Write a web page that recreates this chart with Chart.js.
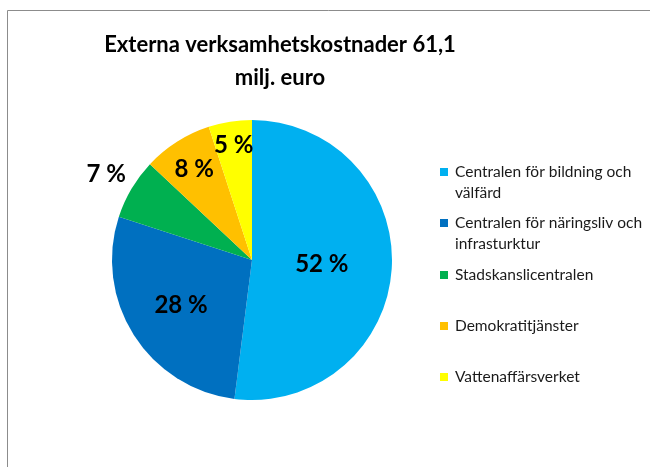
<!DOCTYPE html>
<html>
<head>
<meta charset="utf-8">
<title>Externa verksamhetskostnader</title>
<script src="https://cdn.jsdelivr.net/npm/chart.js@4.4.0/dist/chart.umd.min.js"></script>
<style>
    body { margin: 0; background: #fff; }
    canvas { display: block; }
</style>
</head>
<body>
<canvas id="costChart" width="650" height="467"></canvas>
<script>
// chart data
const categories = [
    ['Centralen för bildning och', 'välfärd'],
    ['Centralen för näringsliv och', 'infrasturktur'],
    ['Stadskanslicentralen'],
    ['Demokratitjänster'],
    ['Vattenaffärsverket']
];
const shares = [52, 28, 7, 8, 5];
const sliceColors = ['#00B0F0', '#0070C0', '#00B050', '#FFC000', '#FFFF00'];
const titleLines = ['Externa verksamhetskostnader 61,1', 'milj. euro'];

// how far out (share of radius) each percent label sits
const labelRadius = [0.5, 0.6, 1.21, 0.77, 0.83];
// legend rows, first text line of each item
const legendRowY = [172, 223, 275, 326, 377];

const fontName = 'Lato, "Open Sans", sans-serif';

const decorPlugin = {
    id: 'decor',
    beforeDraw(chart) {
        const c = chart.ctx;
        c.save();
        c.fillStyle = '#fff';
        c.fillRect(0, 0, chart.width, chart.height);
        // frame (only top and left visible in the crop)
        c.strokeStyle = '#8c8c8c';
        c.lineWidth = 1;
        c.beginPath();
        c.moveTo(7.5, chart.height);
        c.lineTo(7.5, 10.5);
        c.lineTo(chart.width, 10.5);
        c.stroke();

        // title
        c.fillStyle = '#000';
        c.font = 'bold 22px ' + fontName;
        c.textAlign = 'center';
        c.textBaseline = 'middle';
        c.fillText(titleLines[0], 280, 45);
        c.fillText(titleLines[1], 280, 78);
        c.restore();
    },
    afterDatasetsDraw(chart) {
        const c = chart.ctx;
        const meta = chart.getDatasetMeta(0);
        c.save();

        // percent labels
        c.font = 'bold 24px ' + fontName;
        c.fillStyle = '#000';
        c.textAlign = 'center';
        c.textBaseline = 'middle';
        meta.data.forEach((arc, i) => {
            const p = arc.getProps(['x', 'y', 'startAngle', 'endAngle', 'outerRadius'], true);
            const mid = (p.startAngle + p.endAngle) / 2;
            const r = p.outerRadius * labelRadius[i];
            c.fillText(shares[i] + ' %', p.x + Math.cos(mid) * r, p.y + Math.sin(mid) * r);
        });

        // legend
        c.font = '15.5px ' + fontName;
        c.textAlign = 'left';
        categories.forEach((lines, i) => {
            c.fillStyle = sliceColors[i];
            c.fillRect(440, legendRowY[i] - 4, 8, 8);
            c.fillStyle = '#1a1a1a';
            lines.forEach((txt, j) => {
                c.fillText(txt, 455, legendRowY[i] + j * 21);
            });
        });
        c.restore();
    }
};

const ctx = document.getElementById('costChart').getContext('2d');
const costChart = new Chart(ctx, {
    type: 'pie',
    data: {
        labels: categories,
        datasets: [{
            data: shares,
            backgroundColor: sliceColors,
            borderWidth: 0
        }]
    },
    options: {
        responsive: false,
        animation: false,
        layout: {
            padding: { left: 112, right: 258, top: 120, bottom: 67 }
        },
        plugins: {
            legend: { display: false },
            title: { display: false },
            tooltip: { enabled: false }
        }
    },
    plugins: [decorPlugin]
});
</script>
</body>
</html>
